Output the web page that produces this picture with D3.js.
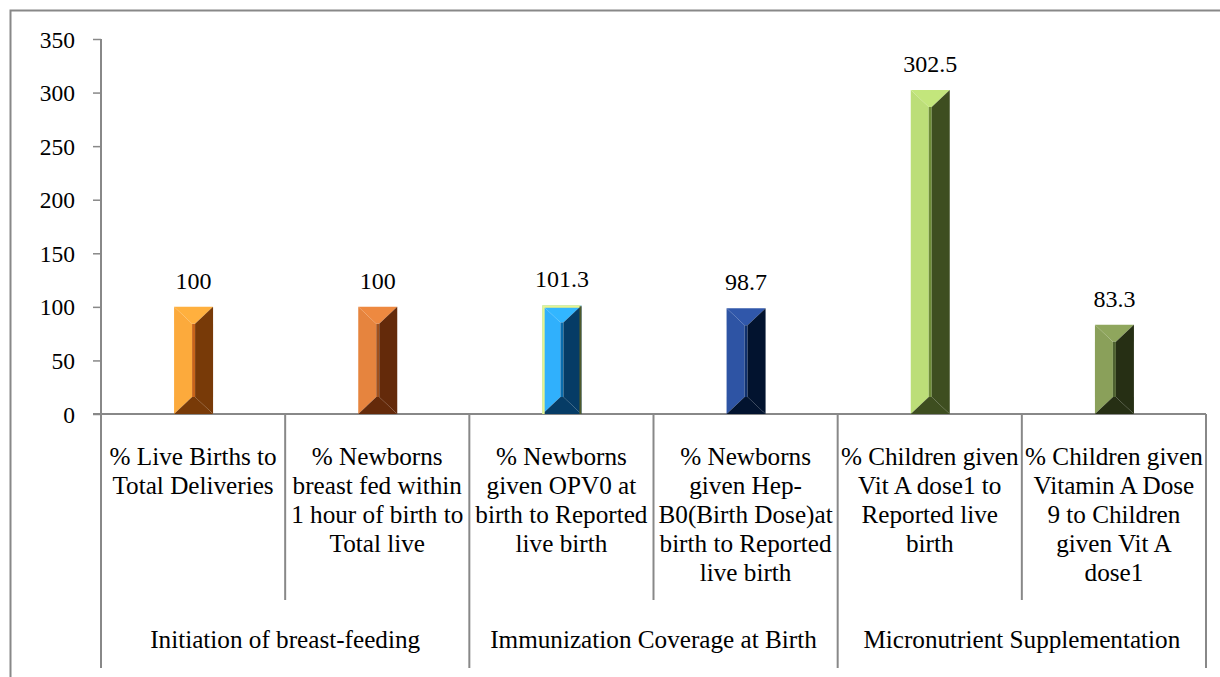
<!DOCTYPE html>
<html><head><meta charset="utf-8">
<script src="https://cdn.jsdelivr.net/npm/d3@7"></script>
<style>
html,body{margin:0;padding:0;background:#fff;}
svg{display:block;}
svg text{font-family:'Liberation Serif','Times New Roman',Times,serif;}
</style></head>
<body><svg id="c" width="1220" height="677"></svg>
<script>
const categories = [
  "% Live Births to\nTotal Deliveries",
  "% Newborns\nbreast fed within\n1 hour of birth to\nTotal live",
  "% Newborns\ngiven OPV0 at\nbirth to Reported\nlive birth",
  "% Newborns\ngiven Hep-\nB0(Birth Dose)at\nbirth to Reported\nlive birth",
  "% Children given\nVit A dose1 to\nReported live\nbirth",
  "% Children given\nVitamin A Dose\n9 to Children\ngiven Vit A\ndose1"
];
const values = [100, 100, 101.3, 98.7, 302.5, 83.3];
const valueLabels = ["100", "100", "101.3", "98.7", "302.5", "83.3"];
const groups = ["Initiation of breast-feeding", "Immunization Coverage at Birth", "Micronutrient Supplementation"];
const groupSizes = [2, 2, 2];
const yTicks = [0, 50, 100, 150, 200, 250, 300, 350];
const lightColors = ["#FCAA3C", "#E6843E", "#30B0FC", "#2E54A4", "#BCDE78", "#8AA05A"];
const midColors   = ["#C8641A", "#A0501C", "#0A6CAC", "#10306C", "#6E8C38", "#4E6230"];
const darkColors  = ["#783A08", "#642A0A", "#063C66", "#02132F", "#3E4E20", "#262F14"];

(function(){
const FONT = "'Liberation Serif','Times New Roman',Times,serif";
const FS_TICK = 23.5, FS_VAL = 24, FS_CAT = 25.2;
const svg = d3.select("#c");
const pLeft = 101, pRight = 1206, pTop = 39, base = 414;
const y = d3.scaleLinear().domain([0, 350]).range([base, pTop]);
const x = d3.scaleBand().domain(d3.range(categories.length)).range([pLeft, pRight]).paddingInner(0).paddingOuter(0);

// outer border
svg.append("path").attr("d", "M10.5,677 V10.5 H1220").attr("fill","none").attr("stroke","#888").attr("stroke-width",2);

// y axis
const yAxis = d3.axisLeft(y).tickValues(yTicks).tickSize(8).tickPadding(18).tickFormat(d3.format("d"));
const ga = svg.append("g").attr("transform", `translate(${pLeft},0)`).call(yAxis)
  .attr("font-family", FONT).attr("font-size", FS_TICK);
ga.select(".domain").remove();
ga.selectAll(".tick line").attr("stroke","#888").attr("stroke-width",1.5);
ga.selectAll(".tick text").attr("font-size",FS_TICK).attr("fill","#000").attr("font-family",FONT).attr("dy","0.34em");

// axis lines
svg.append("line").attr("x1",pLeft).attr("x2",pLeft).attr("y1",pTop).attr("y2",668).attr("stroke","#888").attr("stroke-width",2);
svg.append("line").attr("x1",pLeft - 8).attr("x2",pRight).attr("y1",base).attr("y2",base).attr("stroke","#888").attr("stroke-width",2);

// category dividers
let cum = 0; const groupBounds = [];
groupSizes.forEach(s => { groupBounds.push([cum, cum + s]); cum += s; });
for (let i = 1; i <= categories.length; i++) {
  const xx = i < categories.length ? x(i) : pRight;
  const isGroup = groupBounds.some(g => g[1] === i);
  svg.append("line").attr("x1",xx).attr("x2",xx).attr("y1",base).attr("y2", isGroup ? 668 : 600)
    .attr("stroke","#888").attr("stroke-width",2);
}

// category labels
categories.forEach((c, i) => {
  const t = svg.append("text").attr("text-anchor","middle").attr("font-size",FS_CAT).attr("font-family",FONT).attr("fill","#000");
  c.split("\n").forEach((ln, j) => {
    t.append("tspan").attr("x", x(i) + x.bandwidth()/2).attr("y", 465 + j*29).text(ln);
  });
});
// group labels
groupBounds.forEach((g, i) => {
  const cx = (x(g[0]) + (g[1] < categories.length ? x(g[1]) : pRight)) / 2;
  svg.append("text").attr("x", cx).attr("y", 648).attr("text-anchor","middle").attr("font-size",FS_CAT).attr("font-family",FONT).attr("fill","#000").text(groups[i]);
});

// bars with bevel
const barW = 39;
values.forEach((v, i) => {
  const x0 = x(i) + x.bandwidth()/2 - barW/2 + 0.5, x1 = x0 + barW;
  const t = y(v), b = base;
  const bev = 17, xm = x0 + 18, xm2 = x0 + 21;
  const g = svg.append("g");
  const poly = (pts, col) => g.append("polygon").attr("points", pts.map(p => p.join(",")).join(" ")).attr("fill", col);
  poly([[x0,t],[xm,t+bev],[xm,b-bev],[x0,b]], lightColors[i]);
  poly([[x0,t],[x1,t],[xm2,t+bev],[xm,t+bev]], d3.color(lightColors[i]).brighter(0.1));
  poly([[xm,t+bev],[xm2,t+bev],[xm2,b-bev],[xm,b-bev]], midColors[i]);
  poly([[x1,t],[x1,b],[xm2,b-bev],[xm2,t+bev]], darkColors[i]);
  poly([[x0,b],[x1,b],[xm2,b-bev],[xm,b-bev]], darkColors[i]);
  if (i === 2) {
    g.append("path").attr("d", `M${x0+1},${b} V${t+1} H${x1-1}`).attr("fill","none").attr("stroke","#E8F490").attr("stroke-width",2.5);
    g.append("path").attr("d", `M${x1-1},${t+1} V${b}`).attr("fill","none").attr("stroke","#4E5A2A").attr("stroke-width",2);
  }
  svg.append("text").attr("x", (x0+x1)/2).attr("y", t - 18).attr("text-anchor","middle")
    .attr("font-size",FS_VAL).attr("font-family",FONT).attr("fill","#000").text(valueLabels[i]);
});
})();
</script></body></html>
